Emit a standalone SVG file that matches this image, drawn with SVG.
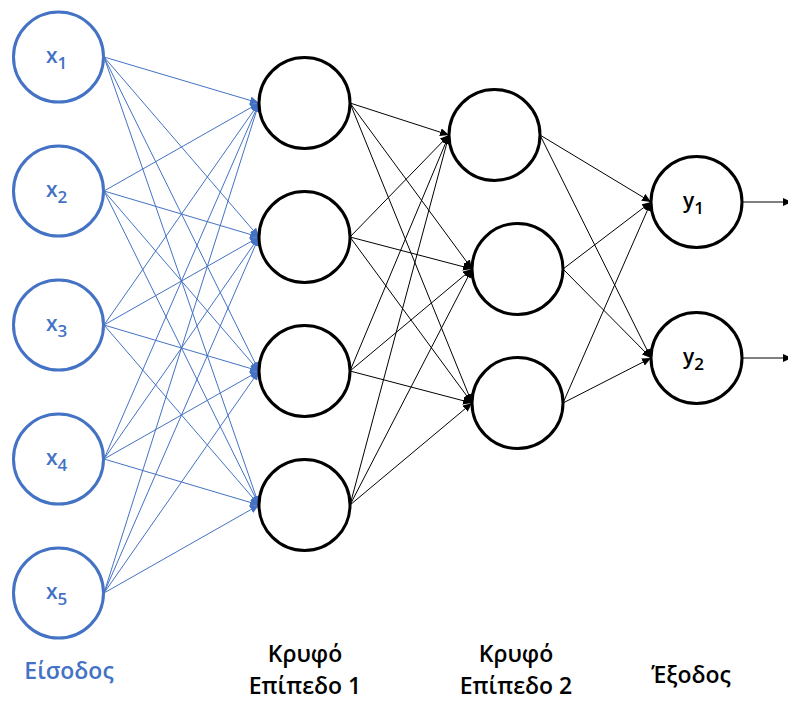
<svg xmlns="http://www.w3.org/2000/svg" width="788" height="702" viewBox="0 0 788 702">
<style>
.in{fill:#fff;stroke:#4472C4;stroke-width:3}
.nd{fill:#fff;stroke:#000;stroke-width:3}
.cb line{stroke:#4472C4;stroke-width:1;marker-end:url(#ab)}
.ck line{stroke:#000;stroke-width:1;marker-end:url(#ak)}
.lb{font-family:"Open Sans","Liberation Sans",sans-serif;font-size:23px;font-weight:600;text-anchor:middle}
.xl{font-family:"Open Sans","Liberation Sans",sans-serif;font-size:21px;font-weight:600;fill:#4472C4}
.yl{font-family:"Open Sans","Liberation Sans",sans-serif;font-size:21px;font-weight:600;fill:#000}
.sb{font-size:17px}
</style>
<defs>
<marker id="ab" markerUnits="userSpaceOnUse" markerWidth="10" markerHeight="8" refX="9" refY="4" orient="auto"><path d="M0,0 L9,4 L0,8 Z" fill="#4472C4"/></marker>
<marker id="ak" markerUnits="userSpaceOnUse" markerWidth="10" markerHeight="8" refX="9" refY="4" orient="auto"><path d="M0,0 L9,4 L0,8 Z" fill="#000"/></marker>
</defs>
<rect width="788" height="702" fill="#fff"/>
<g id="connectors">
<g class="cb">
<line x1="104" y1="57" x2="259" y2="103"/><line x1="104" y1="57" x2="259" y2="237"/><line x1="104" y1="57" x2="259" y2="371"/><line x1="104" y1="57" x2="259" y2="505"/>
<line x1="104" y1="191" x2="259" y2="103"/><line x1="104" y1="191" x2="259" y2="237"/><line x1="104" y1="191" x2="259" y2="371"/><line x1="104" y1="191" x2="259" y2="505"/>
<line x1="104" y1="325" x2="259" y2="103"/><line x1="104" y1="325" x2="259" y2="237"/><line x1="104" y1="325" x2="259" y2="371"/><line x1="104" y1="325" x2="259" y2="505"/>
<line x1="104" y1="459" x2="259" y2="103"/><line x1="104" y1="459" x2="259" y2="237"/><line x1="104" y1="459" x2="259" y2="371"/><line x1="104" y1="459" x2="259" y2="505"/>
<line x1="104" y1="593" x2="259" y2="103"/><line x1="104" y1="593" x2="259" y2="237"/><line x1="104" y1="593" x2="259" y2="371"/><line x1="104" y1="593" x2="259" y2="505"/>
</g>
<g class="ck">
<line x1="350" y1="103" x2="449" y2="135"/><line x1="350" y1="103" x2="472" y2="269"/><line x1="350" y1="103" x2="472" y2="403"/>
<line x1="350" y1="237" x2="449" y2="135"/><line x1="350" y1="237" x2="472" y2="269"/><line x1="350" y1="237" x2="472" y2="403"/>
<line x1="350" y1="371" x2="449" y2="135"/><line x1="350" y1="371" x2="472" y2="269"/><line x1="350" y1="371" x2="472" y2="403"/>
<line x1="350" y1="505" x2="449" y2="135"/><line x1="350" y1="505" x2="472" y2="269"/><line x1="350" y1="505" x2="472" y2="403"/>
<line x1="540" y1="135" x2="651" y2="202"/><line x1="540" y1="135" x2="651" y2="358"/>
<line x1="563" y1="269" x2="651" y2="202"/><line x1="563" y1="269" x2="651" y2="358"/>
<line x1="563" y1="403" x2="651" y2="202"/><line x1="563" y1="403" x2="651" y2="358"/>
<line x1="742" y1="202" x2="792" y2="202"/><line x1="742" y1="358" x2="792" y2="358"/>
</g>
</g>
<g id="x1"><circle class="in" cx="58.5" cy="57" r="45"/><text class="xl" x="46" y="63">x<tspan class="sb" dy="6">1</tspan></text></g>
<g id="x2"><circle class="in" cx="58.5" cy="191" r="45"/><text class="xl" x="46" y="197">x<tspan class="sb" dy="6">2</tspan></text></g>
<g id="x3"><circle class="in" cx="58.5" cy="325" r="45"/><text class="xl" x="46" y="331">x<tspan class="sb" dy="6">3</tspan></text></g>
<g id="x4"><circle class="in" cx="58.5" cy="459" r="45"/><text class="xl" x="46" y="465">x<tspan class="sb" dy="6">4</tspan></text></g>
<g id="x5"><circle class="in" cx="58.5" cy="593" r="45"/><text class="xl" x="46" y="599">x<tspan class="sb" dy="6">5</tspan></text></g>
<g id="h1a"><circle class="nd" cx="304.5" cy="103" r="45.5"/></g>
<g id="h1b"><circle class="nd" cx="304.5" cy="237" r="45.5"/></g>
<g id="h1c"><circle class="nd" cx="304.5" cy="371" r="45.5"/></g>
<g id="h1d"><circle class="nd" cx="304.5" cy="505" r="45.5"/></g>
<g id="h2a"><circle class="nd" cx="494.5" cy="135" r="45.5"/></g>
<g id="h2b"><circle class="nd" cx="517.5" cy="269" r="45.5"/></g>
<g id="h2c"><circle class="nd" cx="517.5" cy="403" r="45.5"/></g>
<g id="y1"><circle class="nd" cx="696.5" cy="202" r="45.5"/><text class="yl" x="683" y="208">y<tspan class="sb" dy="6">1</tspan></text></g>
<g id="y2"><circle class="nd" cx="696.5" cy="358" r="45.5"/><text class="yl" x="683" y="364">y<tspan class="sb" dy="6">2</tspan></text></g>
<g id="labels">
<text class="lb" x="69" y="679" fill="#4472C4">Είσοδος</text>
<text class="lb" x="305" y="662">Κρυφό</text>
<text class="lb" x="305" y="694">Επίπεδο 1</text>
<text class="lb" x="516" y="662">Κρυφό</text>
<text class="lb" x="516" y="694">Επίπεδο 2</text>
<text class="lb" x="691" y="683">Έξοδος</text>
</g>
</svg>
